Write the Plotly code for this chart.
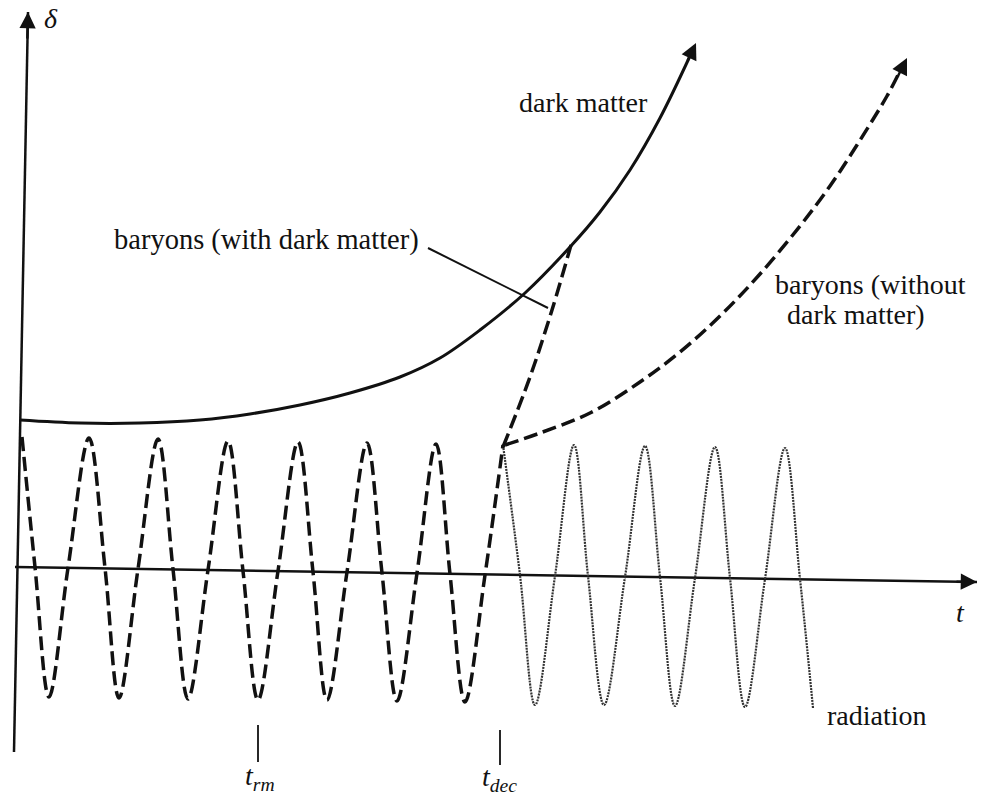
import plotly.graph_objects as go

# ---- data (pixel-like coordinates: t to the right, delta downward) ----
# axes (scanned image is slightly rotated)
t_axis_t = [15, 977]
t_axis_d = [567, 582]
d_axis_t = [14, 28]
d_axis_d = [752, 12]

# dark matter (solid)
dm_t = [20, 80, 140, 200, 250, 300, 350, 400, 440, 480, 525, 570, 600, 630, 660, 690]
dm_d = [420, 423, 423, 420, 414, 405, 393, 377, 358, 330, 293, 247, 212, 170, 118, 56]

# baryons (oscillating, dashed) before decoupling
bo_t = [22, 35, 49, 68, 89, 105, 119, 138, 158, 173, 188, 208, 228, 243, 258, 278, 298, 313, 327,
        347, 367, 382, 397, 417, 436, 450, 465, 485, 503]
bo_d = [437, 567, 697, 568, 438, 568, 698, 569, 439, 569, 699, 570, 441, 571, 700, 571, 442, 572, 700,
        572, 443, 573, 701, 573, 444, 574, 702, 575, 445]

# radiation (dotted) after decoupling
rad_t = [503, 520, 535, 555, 574, 588, 604, 625, 645, 660, 675, 695, 715, 730, 745, 765, 785, 800, 813]
rad_d = [445, 575, 705, 576, 445, 576, 705, 577, 446, 577, 706, 578, 447, 578, 707, 579, 448, 579, 708]

# baryons with dark matter (dashed, after decoupling)
bw_t = [503, 530, 552, 571]
bw_d = [447, 377, 310, 245]

# baryons without dark matter (dashed, after decoupling)
bn_t = [505, 540, 590, 640, 680, 720, 760, 800, 830, 857, 887, 899]
bn_d = [445, 433, 413, 382, 352, 316, 274, 226, 186, 145, 96, 73]

# pointer line for the "baryons (with dark matter)" label
ptr_t = [428, 548]
ptr_d = [248, 308]

# tick marks
trm_t = [258, 258]
trm_d = [725, 762]
tdec_t = [500, 500]
tdec_d = [730, 765]

INK = "#111111"

fig = go.Figure()

def line(x, y, width, dash="solid", color=INK, shape="linear"):
    fig.add_trace(go.Scatter(x=x, y=y, mode="lines", hoverinfo="skip", showlegend=False,
                             line=dict(color=color, width=width, dash=dash, shape=shape)))

line(t_axis_t, t_axis_d, 2.5)
line(d_axis_t, d_axis_d, 2.5)
line(dm_t, dm_d, 3, shape="spline")
line(bo_t, bo_d, 3.5, dash="14px,6px", shape="spline")
line(rad_t, rad_d, 2.2, dash="2px,1px", color="#333333", shape="spline")
line(bw_t, bw_d, 3.5, dash="14px,6px", shape="spline")
line(bn_t, bn_d, 3.5, dash="14px,6px", shape="spline")
line(ptr_t, ptr_d, 2)
line(trm_t, trm_d, 1.8)
line(tdec_t, tdec_d, 1.8)

# arrow heads
def arrow(x, y, ax, ay):
    fig.add_annotation(x=x, y=y, ax=ax, ay=ay, xref="x", yref="y", axref="x", ayref="y",
                       text="", showarrow=True, arrowhead=2, arrowsize=1.3, arrowwidth=2.5,
                       arrowcolor=INK)

arrow(977, 582, 955, 581.6)
arrow(28, 12, 27.3, 40)
arrow(696, 43, 687, 62)
arrow(907, 58, 897, 78)

FONT = "Liberation Serif"

def label(text, x, y, size=28, xanchor="left"):
    fig.add_annotation(x=x, y=y, xref="x", yref="y", text=text, showarrow=False,
                       xanchor=xanchor, yanchor="middle",
                       font=dict(family=FONT, size=size, color=INK))

label("dark matter", 517, 102)
label("baryons (with dark matter)", 112, 240, size=28.5)
label("baryons (without", 773, 284)
label("dark matter)", 785, 314)
label("radiation", 825, 715)
label("<i>δ</i>", 51, 18, xanchor="center")
label("<i>t</i>", 960, 612, xanchor="center")
label("<i>t</i><sub><i>rm</i></sub>", 243, 777)
label("<i>t</i><sub><i>dec</i></sub>", 480, 778)

fig.update_layout(
    width=983, height=797,
    margin=dict(l=0, r=0, t=0, b=0),
    paper_bgcolor="white", plot_bgcolor="white",
    xaxis=dict(range=[0, 983], visible=False, fixedrange=True),
    yaxis=dict(range=[797, 0], visible=False, fixedrange=True),
)

fig.write_html("out.html", config={"displayModeBar": False, "staticPlot": True},
               post_script="document.body.style.margin='0';document.body.style.overflow='hidden';")
